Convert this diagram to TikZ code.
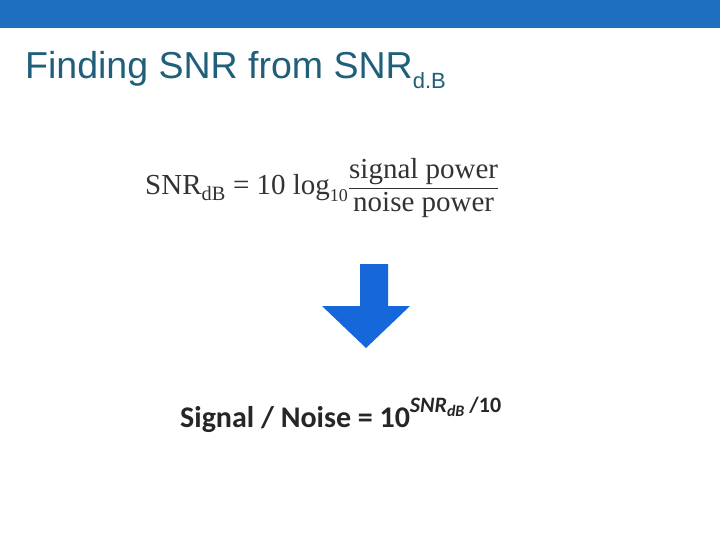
\documentclass[tikz,border=0pt]{standalone}
\usepackage{amsmath,amssymb}
\usepackage{fontspec}
\setmainfont{Liberation Serif}
\newfontfamily\titlefont{Liberation Sans}
\newfontfamily\calfont{Carlito}
\definecolor{bar}{HTML}{1F6FC0}
\definecolor{ttl}{HTML}{1F5F7A}
\definecolor{arr}{HTML}{1668DA}
\tikzset{txt/.style={inner sep=0pt,anchor=west}}
\begin{document}
\begin{tikzpicture}[x=1pt,y=-1pt]
\useasboundingbox (0,0) rectangle (720,540);
\fill[white] (0,0) rectangle (720,540);
\fill[bar] (0,0) rectangle (720,28);
\node[txt,text=ttl,font=\titlefont\fontsize{37.5}{40}\selectfont] (title) at (25,70) {Finding SNR from SNR\raisebox{-0.55ex}{\fontsize{22}{24}\selectfont d.B}};
\node[txt,font=\fontsize{29}{33}\selectfont,text=black!80] (f1) at (145,188) {SNR\textsubscript{dB} = 10 log\raisebox{-0.5ex}{\fontsize{18}{20}\selectfont 10}$\displaystyle\frac{\text{signal power}}{\text{noise power}}$};
\fill[arr] (360,264) -- (388,264) -- (388,306) -- (410,306) -- (366,348) -- (322,306) -- (360,306) -- cycle;
\node[txt,font=\calfont\bfseries\fontsize{30}{34}\selectfont,text=black!85] (f2) at (180,415) {Signal / Noise = 10\raisebox{1.0ex}{\fontsize{22}{24}\selectfont\itshape SNR\raisebox{-0.3ex}{\fontsize{16}{18}\selectfont dB}\upshape\ /10}};
\end{tikzpicture}
\end{document}
